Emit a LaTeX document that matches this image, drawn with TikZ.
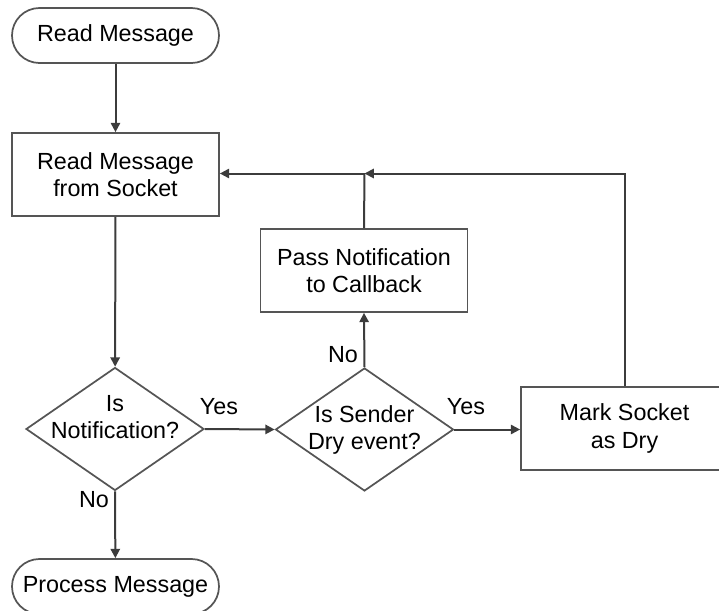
\documentclass[tikz,border=0pt]{standalone}
\usepackage{fontspec}
\setmainfont{Liberation Sans}
\usetikzlibrary{shapes.geometric,arrows.meta}
\definecolor{linegray}{HTML}{3C3C3C}
\definecolor{boxgray}{HTML}{555555}
\begin{document}
\begin{tikzpicture}[x=0.75pt,y=-0.75pt,
  every node/.style={font=\fontsize{17.5}{20.5}\selectfont, text=black},
  terminal/.style={draw=boxgray, line width=1.3pt, rectangle, rounded corners=20.6pt,
    minimum width=155.25pt, minimum height=41.25pt, inner sep=0pt},
  process/.style={draw=boxgray, line width=1.3pt, rectangle, align=center,
    minimum width=155.25pt, minimum height=62.25pt, inner sep=0pt},
  decision/.style={draw=boxgray, line width=1.3pt, diamond,
    minimum width=133.5pt, minimum height=92.25pt, inner sep=0pt},
  caption/.style={align=center, inner sep=0pt},
  flow/.style={draw=linegray, line width=1.5pt, -{Triangle[length=7pt,width=7pt]}},
  joinline/.style={draw=linegray, line width=1.5pt}
]
\useasboundingbox (0,0) rectangle (719,611);
\clip (0,0) rectangle (719,611);

% shapes
\node[terminal] (start) at (115.5,35.5) {Read Message};
\node[process] (read) at (115.5,174.5) {Read Message\\from Socket};
\node[decision] (dec1) at (115,429) {};
\node[caption] (dec1txt) at (115,417) {Is\\Notification?};
\node[terminal] (proc) at (115.5,586.5) {Process Message};
\node[process] (pass) at (364,270.5) {Pass Notification\\to Callback};
\node[decision] (dec2) at (364.5,429.5) {};
\node[caption] (dec2txt) at (364.5,430) {Is Sender\\Dry event?};
\node[process] (mark) at (624.5,428.5) {Mark Socket\\as Dry};

% return path junction
\coordinate (join) at (364.5,173.5);
\coordinate (markup) at (624.5,173.5);

% connectors
\draw[flow] (start) -- (read);
\draw[flow] (read) -- (dec1);
\draw[flow] (dec1.south) -- (proc);
\draw[flow] (dec1.east) -- (dec2.west);
\draw[flow] (dec2.east) -- (mark.west |- dec2.east);
\draw[flow] (dec2.north) -- (pass.south);
\draw[joinline] (pass.north) -- (join);
\draw[flow] (join) -- (read.east |- join);
\draw[flow] (mark.north) -- (markup) -- (join);

% branch labels
\node[caption] (yes1) at (219,407) {Yes};
\node[caption] (no1) at (94,500) {No};
\node[caption] (yes2) at (466,407) {Yes};
\node[caption] (no2) at (343,355) {No};
\end{tikzpicture}
\end{document}
